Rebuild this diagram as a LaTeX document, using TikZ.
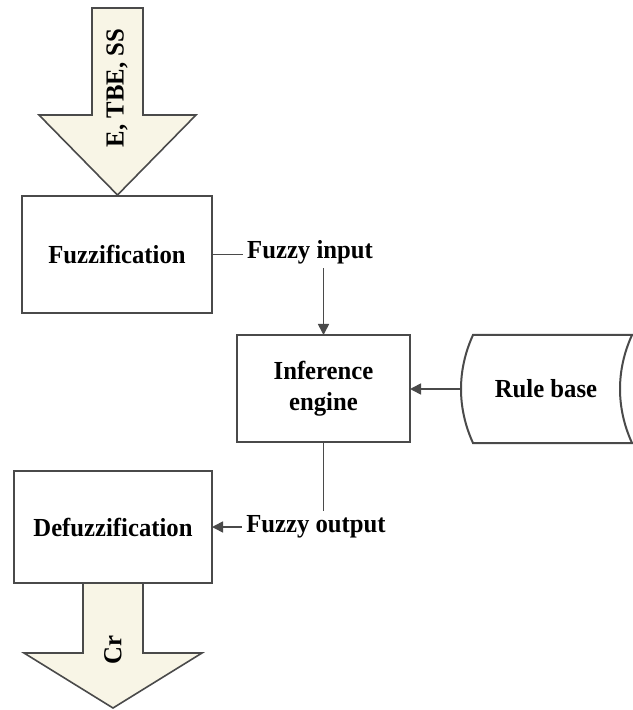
\documentclass[tikz,border=0pt]{standalone}
\usepackage{fontspec}
\setmainfont{Liberation Serif}[FakeStretch=0.95]
\usetikzlibrary{arrows.meta}
\definecolor{cream}{HTML}{F8F5E6}
\definecolor{edge}{HTML}{4A4A4A}

\begin{document}
\begin{tikzpicture}[x=0.5pt, y=-0.5pt,
    every node/.style={font=\fontsize{13}{15.5}\selectfont\bfseries, text=black},
    block/.style={draw=edge, line width=1pt, fill=white, align=center, outer sep=0pt},
    bigarrow/.style={draw=edge, line width=0.8pt, fill=cream},
    link/.style={draw=edge, line width=0.8pt},
    tip/.style={-{Triangle[length=5.5pt, width=5.5pt]}}]
    \useasboundingbox (0,0) rectangle (632,710);
    \draw[bigarrow] (92,8) -- (143,8) -- (143,115) -- (196,115) -- (117.5,195) -- (39,115) -- (92,115) -- cycle;
        \node[rotate=90] (ins) at (117,88) {E, TBE, SS};
    \node[block, minimum width=95pt, minimum height=58.5pt] (fuzz) at (117,254.5) {Fuzzification};
    \node[inner sep=2pt] (fin) at (310,252) {Fuzzy input};
    \node[block, minimum width=86.5pt, minimum height=53.5pt] (inf) at (323.5,388.5) {Inference\\engine};
    \draw[block] (473,335) -- (632,335) .. controls (616,370) and (616,408) .. (632,443) -- (473,443) .. controls (457,408) and (457,370) .. (473,335) -- cycle;
    \node[minimum width=86pt, minimum height=54pt, outer sep=0pt] (rb) at (546,389) {Rule base};
    \node[inner sep=2pt] (fout) at (316,527) {Fuzzy output};
    \draw[bigarrow] (83,583) -- (143,583) -- (143,653) -- (202,653) -- (113,708) -- (24,653) -- (83,653) -- cycle;
        \node[rotate=90] (out) at (113,650) {Cr};
    \node[block, minimum width=99pt, minimum height=56pt] (defuzz) at (113,527) {Defuzzification};
    \draw[link] (fuzz.east) -- (fuzz.east -| fin.west);
    \draw[link, tip] (inf.north |- fin.south) -- (inf.north);
    \draw[link, tip] (rb.west) -- (rb.west -| inf.east);
    \draw[link] (inf.south) -- (inf.south |- fout.north);
    \draw[link, tip] (fout.west) -- (defuzz.east |- fout.west);
\end{tikzpicture}
\end{document}
